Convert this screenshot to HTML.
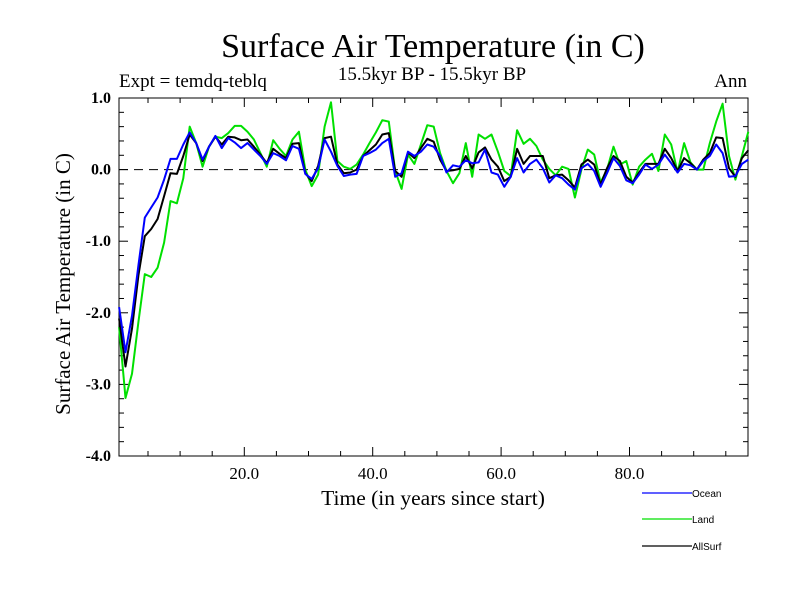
<!DOCTYPE html>
<html><head><meta charset="utf-8"><style>
body{margin:0;background:#fff}
svg text{font-family:"Liberation Serif",serif}
</style></head><body>
<svg id="chart" width="800" height="600" xmlns="http://www.w3.org/2000/svg">
<rect width="800" height="600" fill="#fff"/>
<text x="433" y="57" font-size="34" text-anchor="middle">Surface Air Temperature (in C)</text>
<text x="432" y="80" font-size="19" text-anchor="middle">15.5kyr BP - 15.5kyr BP</text>
<text x="119" y="87" font-size="19">Expt = temdq-teblq</text>
<text x="747" y="87" font-size="19" text-anchor="end">Ann</text>
<text x="433" y="505" font-size="21.5" text-anchor="middle">Time (in years since start)</text>
<text transform="translate(70,284) rotate(-90)" font-size="21" text-anchor="middle">Surface Air Temperature (in C)</text>
<g id="axes"></g>
<g id="series"></g>
<g id="legend"></g>
</svg>
<script>
const xTickLabels=["20.0","40.0","60.0","80.0"];
const xTickValues=[20,40,60,80];
const yTickValues=[1,0,-1,-2,-3,-4];
const yTickLabels=["1.0","0.0","-1.0","-2.0","-3.0","-4.0"];
const seriesNames=["Ocean","Land","AllSurf"];
const ocean=[-1.92,-2.55,-2.04,-1.34,-0.67,-0.53,-0.39,-0.14,0.15,0.15,0.35,0.52,0.37,0.14,0.32,0.47,0.30,0.44,0.38,0.30,0.37,0.28,0.19,0.08,0.23,0.19,0.13,0.33,0.29,-0.06,-0.13,0.02,0.42,0.25,0.05,-0.09,-0.07,-0.06,0.19,0.23,0.28,0.37,0.43,-0.10,-0.05,0.25,0.19,0.25,0.35,0.32,0.19,-0.04,0.06,0.04,0.13,0.09,0.10,0.28,-0.04,-0.07,-0.24,-0.10,0.16,-0.04,0.08,0.14,0.02,-0.18,-0.08,-0.12,-0.21,-0.28,0.02,0.08,-0.02,-0.24,-0.05,0.16,0.05,-0.15,-0.19,-0.07,0.07,0.01,0.07,0.21,0.09,-0.04,0.08,0.06,0,0.12,0.19,0.35,0.23,-0.10,-0.09,0.08,0.14];
const land=[-2.2,-3.19,-2.85,-2.13,-1.46,-1.5,-1.37,-1.02,-0.44,-0.47,-0.12,0.6,0.37,0.04,0.32,0.46,0.44,0.51,0.61,0.61,0.53,0.42,0.23,0.04,0.41,0.29,0.19,0.42,0.53,0,-0.23,-0.07,0.6,0.94,0.12,0.04,0.01,0.07,0.21,0.37,0.52,0.69,0.67,-0.02,-0.27,0.21,0.08,0.35,0.62,0.60,0.23,-0.02,-0.19,-0.05,0.37,-0.10,0.49,0.43,0.49,0.25,-0.02,-0.09,0.55,0.36,0.43,0.33,0.14,0.01,-0.08,0.04,0.01,-0.39,0,0.28,0.21,-0.18,0,0.32,0.07,0.12,-0.21,0.04,0.14,0.22,-0.02,0.49,0.35,-0.04,0.37,0.10,0,0,0.37,0.67,0.92,0.19,-0.14,0.19,0.53];
const allsurf=[-2.08,-2.75,-2.22,-1.48,-0.93,-0.83,-0.69,-0.37,-0.05,-0.06,0.19,0.49,0.37,0.12,0.32,0.46,0.35,0.46,0.45,0.41,0.42,0.32,0.21,0.09,0.29,0.22,0.16,0.36,0.37,-0.05,-0.16,0.05,0.44,0.46,0.07,-0.05,-0.04,0,0.19,0.27,0.35,0.49,0.51,-0.02,-0.10,0.24,0.16,0.30,0.43,0.39,0.14,-0.02,-0.01,0.01,0.19,0.02,0.24,0.31,0.14,0.04,-0.16,-0.10,0.29,0.08,0.19,0.19,0.19,-0.12,-0.08,-0.07,-0.15,-0.25,0.07,0.14,0.07,-0.21,0.02,0.19,0.12,-0.10,-0.18,-0.04,0.08,0.08,0.08,0.29,0.16,-0.02,0.16,0.09,0,0.14,0.23,0.45,0.44,0.02,-0.10,0.16,0.27];
const NS="http://www.w3.org/2000/svg";
const X0=119,X1=748,Y0=98,Y1=456;
function xs(t){return 115.9+6.42*t;}
function ys(v){return Y0+(1-v)*(Y1-Y0)/5;}
function mk(tag,attrs,parent){const e=document.createElementNS(NS,tag);for(const k in attrs)e.setAttribute(k,attrs[k]);parent.appendChild(e);return e;}
const axes=document.getElementById('axes');
const frame=mk('rect',{x:X0,y:Y0,width:X1-X0,height:Y1-Y0,fill:'none',stroke:'#000','stroke-width':1},axes);


const zl=mk('line',{x1:X0,x2:X1,y1:ys(0),y2:ys(0),stroke:'#000','stroke-dasharray':'9,6','stroke-width':1},axes);


for(let t=5;t<=95;t+=5){const major=t%20===0;const L=major?9:5;const x=xs(t);
 mk('line',{x1:x,x2:x,y1:Y1,y2:Y1-L,stroke:'#000'},axes);
 mk('line',{x1:x,x2:x,y1:Y0,y2:Y0+L,stroke:'#000'},axes);}
for(let k=-20;k<=5;k++){const v=k/5;const major=k%5===0;const L=major?9:5;const y=ys(v);
 mk('line',{x1:X0,x2:X0+L,y1:y,y2:y,stroke:'#000'},axes);
 mk('line',{x1:X1,x2:X1-L,y1:y,y2:y,stroke:'#000'},axes);}
xTickValues.forEach((v,i)=>{const t=mk('text',{x:xs(v),y:479,'font-size':17,'text-anchor':'middle'},axes);t.textContent=xTickLabels[i];
 
 });
yTickValues.forEach((v,i)=>{const t=mk('text',{x:111,y:ys(v)+5,'font-size':16,'text-anchor':'end','font-weight':'bold'},axes);t.textContent=yTickLabels[i];
 
 });
const ser=document.getElementById('series');
function line(data,color,name){const pts=data.map((v,i)=>xs(i+0.5).toFixed(1)+','+ys(v).toFixed(1)).join(' ');
 const p=mk('polyline',{points:pts,fill:'none',stroke:color,'stroke-width':2,'stroke-linejoin':'round'},ser);
 
 }
line(land,'#00e000','land-line');
line(allsurf,'#000','allsurf-line');
line(ocean,'#0000ff','ocean-line');
const leg=document.getElementById('legend');
const lc=['#0000ff','#00e000','#000'];const ly=[493,519,546];
seriesNames.forEach((n,i)=>{
 const g=mk('g',{},leg);
 
 
 mk('line',{x1:642,x2:692,y1:ly[i],y2:ly[i],stroke:lc[i],'stroke-width':1.2},g);
 const t=mk('text',{x:692,y:ly[i]+4,'font-size':10,style:'font-family:"Liberation Sans",sans-serif'},g);t.textContent=n;});
</script>
</body></html>
